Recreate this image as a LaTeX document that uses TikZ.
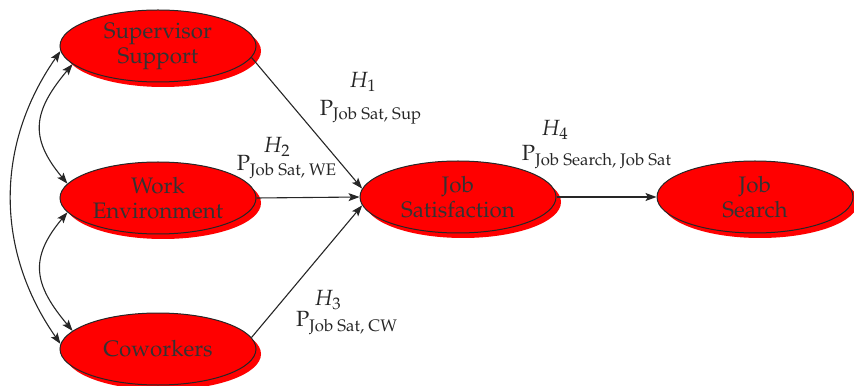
\documentclass[tikz,border=0pt]{standalone}
\usepackage[T1]{fontenc}
\usepackage{amsmath}
\usepackage{mathpazo}
\usetikzlibrary{positioning,shapes.geometric,shadows,arrows.meta}

\tikzset{
  factor/.style={ellipse, draw=black!85, fill=red, line width=0.5pt, minimum width=98pt, minimum height=36pt,
    inner sep=0pt, align=center, text=black!80, font=\fontsize{11.2}{12.5}\selectfont,
    drop shadow={shadow xshift=2.5pt, shadow yshift=-2.5pt, fill=red, opacity=1}},
  path/.style={-{Stealth[length=5.5pt,width=4pt,inset=1.2pt]}, line width=0.55pt, black!85},
  corr/.style={{Stealth[length=5.5pt,width=4pt,inset=1.2pt]}-{Stealth[length=5.5pt,width=4pt,inset=1.2pt]}, line width=0.55pt, black!85},
  lbl/.style={inner sep=0pt, text=black!85, font=\fontsize{11}{12}\selectfont}
}

\begin{document}
\begin{tikzpicture}[x=0.5pt, y=0.5pt]
  \useasboundingbox (0,0) rectangle (854,385);

  % latent factors
  \node[factor] (sup) at (158,339) {Supervisor\\Support};
  \node[factor] (we) at (158,187) {Work\\Environment};
  \node[factor] (cw) at (158,36) {Coworkers};
  \node[factor] (js) at (458,188) {Job\\Satisfaction};
  \node[factor] (srch) at (755,188) {Job\\Search};

  % hypothesised paths
  \draw[path] (sup.-7) -- (js.175);
  \draw[path] (we.east) -- (js.west);
  \draw[path] (cw.7) -- (js.185);
  \draw[path] (js.east) -- (srch.west);

  % correlations between predictors
  \draw[corr] (sup.183) to[out=235, in=125] (cw.177);
  \draw[corr] (sup.192) to[out=230, in=130, looseness=1.3] (we.171);
  \draw[corr] (we.189) to[out=230, in=130, looseness=1.3] (cw.168);

  % path labels
  \node[lbl] (h1) at (363,303) {$H_1$};
  \node[lbl] (p1) at (371,273) {$\mathrm{P}_{\text{Job Sat, Sup}}$};
  \node[lbl] (h2) at (277,238) {$H_2$};
  \node[lbl] (p2) at (287,218) {$\mathrm{P}_{\text{Job Sat, WE}}$};
  \node[lbl] (h3) at (328,85) {$H_3$};
  \node[lbl] (p3) at (347,62) {$\mathrm{P}_{\text{Job Sat, CW}}$};
  \node[lbl] (h4) at (555,255) {$H_4$};
  \node[lbl] (p4) at (597,228) {$\mathrm{P}_{\text{Job Search, Job Sat}}$};
\end{tikzpicture}
\end{document}
